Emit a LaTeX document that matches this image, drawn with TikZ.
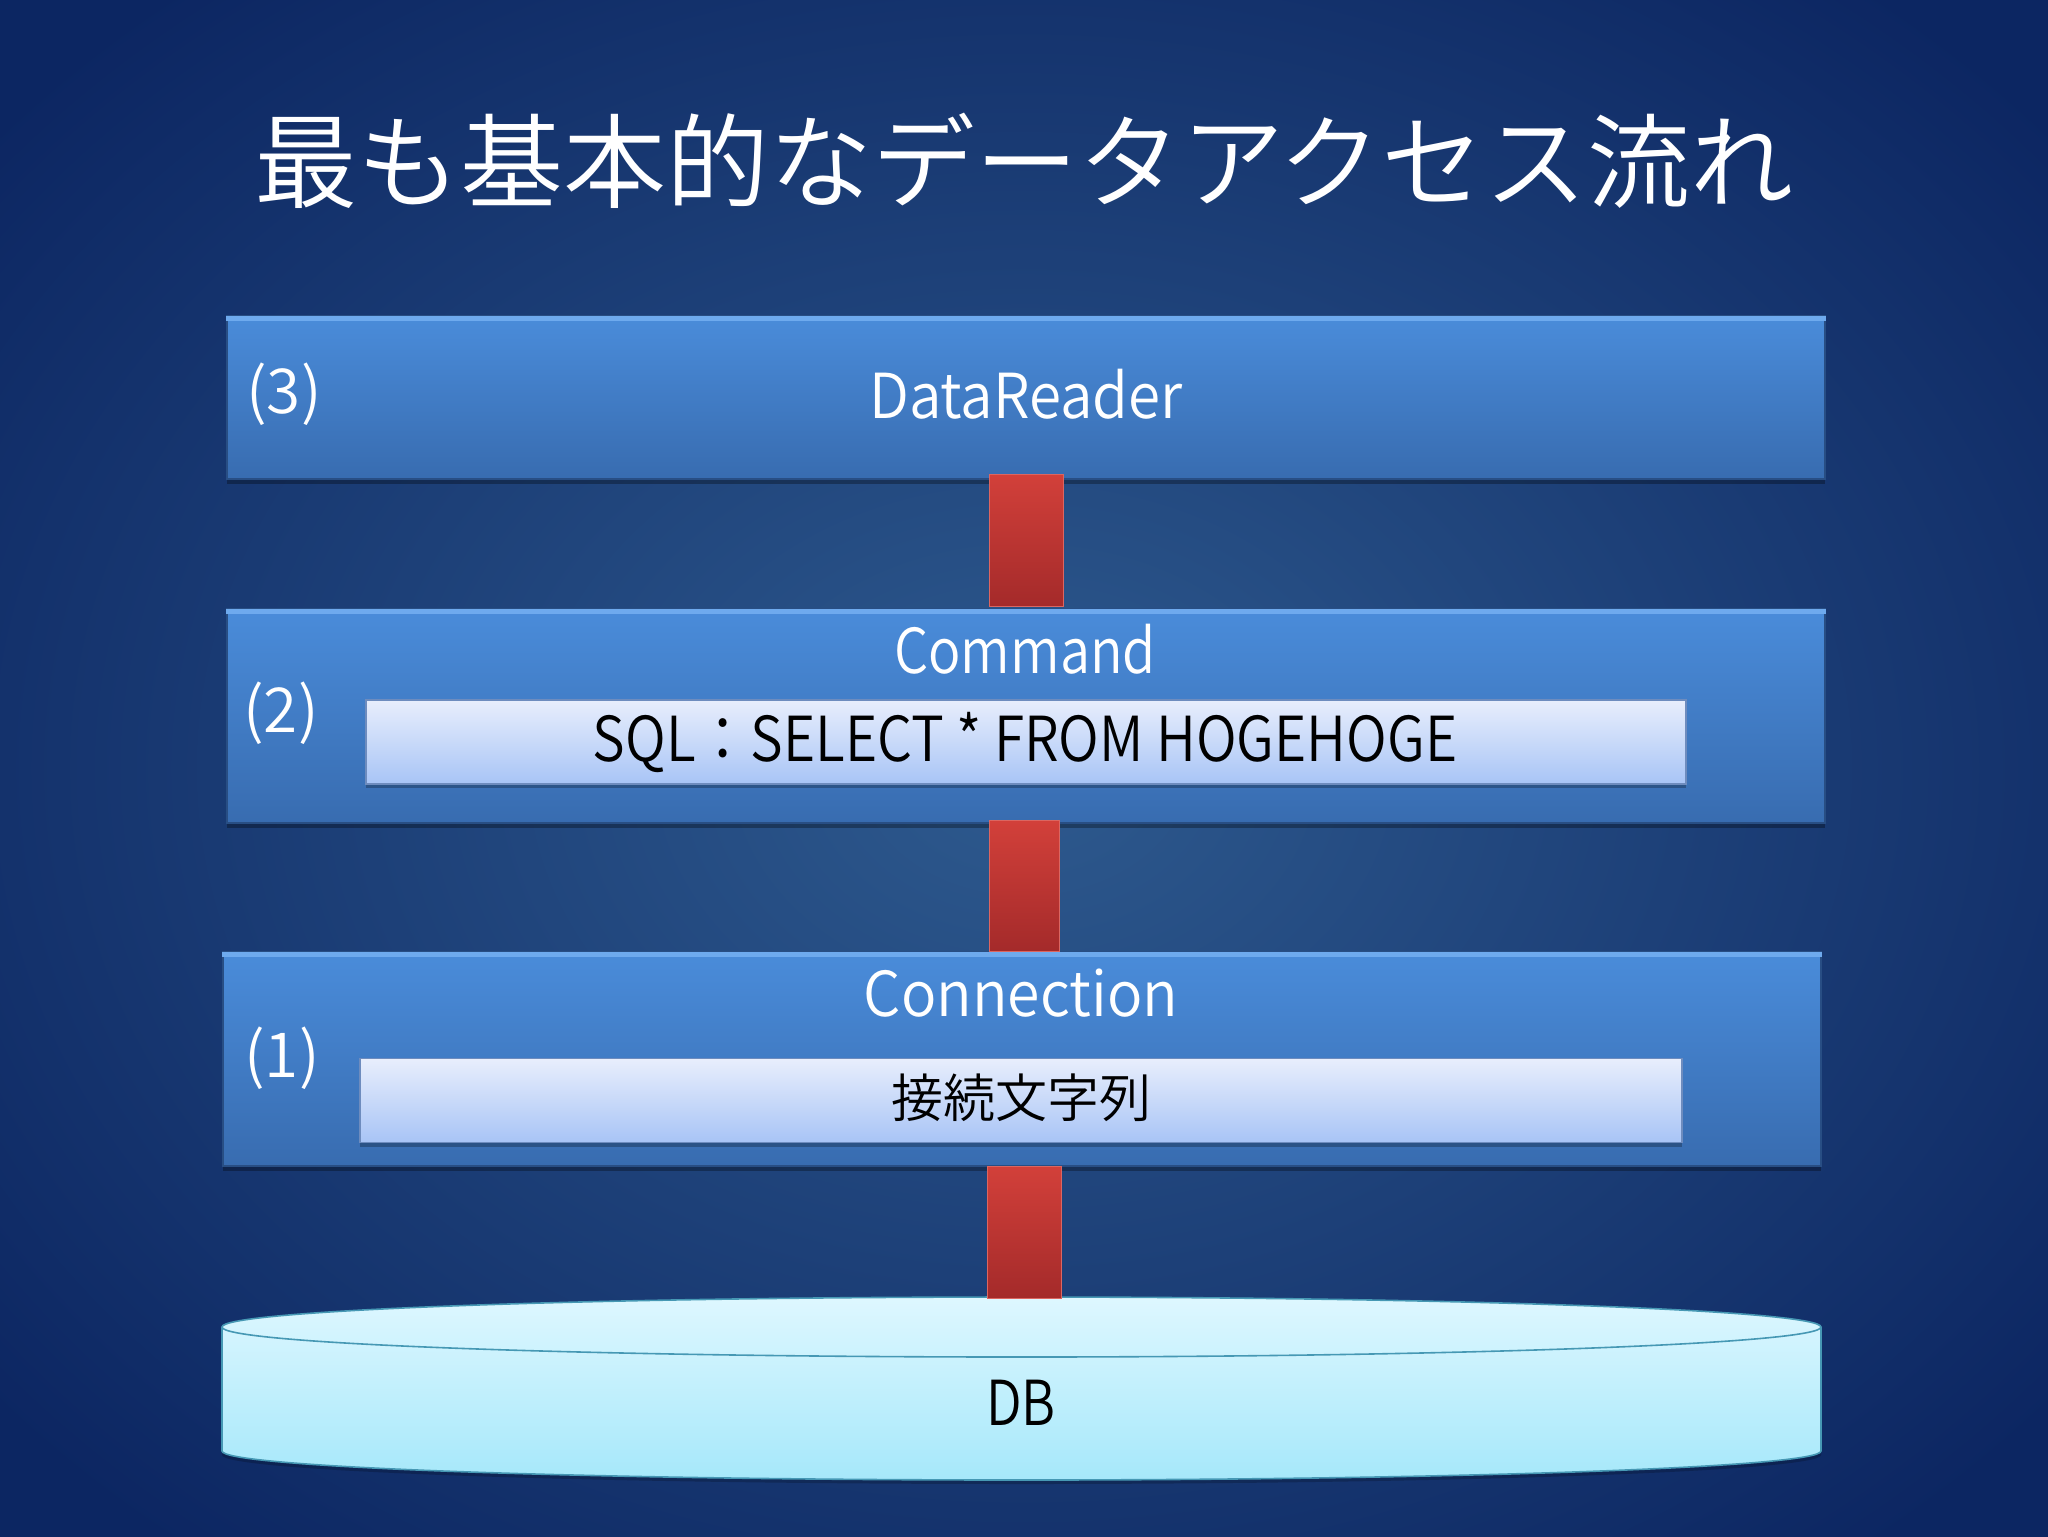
\documentclass[tikz,border=0pt]{standalone}
\usepackage{fontspec}
\setmainfont{Noto Sans CJK JP DemiLight}
\usetikzlibrary{calc,shadows}
\definecolor{bgin}{RGB}{46,90,142}
\definecolor{bgout}{RGB}{12,38,98}
\definecolor{boxtop}{RGB}{74,140,218}
\definecolor{boxbot}{RGB}{56,108,176}
\definecolor{boxedge}{RGB}{40,78,132}
\definecolor{bevel}{RGB}{110,170,238}
\definecolor{intop}{RGB}{232,238,252}
\definecolor{inbot}{RGB}{168,196,246}
\definecolor{inedge}{RGB}{110,140,190}
\definecolor{redtop}{RGB}{210,64,58}
\definecolor{redbot}{RGB}{164,42,42}
\definecolor{dbtopc}{RGB}{222,247,255}
\definecolor{dbbotc}{RGB}{166,232,250}
\definecolor{dbedge}{RGB}{70,152,180}
\begin{document}
\begin{tikzpicture}[x=0.5pt,y=-0.5pt,
  bluebox/.style={draw=boxedge, line width=0.8pt, top color=boxtop, bottom color=boxbot,
    minimum width=799pt, inner sep=0pt,
    drop shadow={opacity=0.3, shadow xshift=0pt, shadow yshift=-2.5pt, fill=black}},
  innerbox/.style={draw=inedge, line width=0.6pt, top color=intop, bottom color=inbot,
    inner sep=0pt, minimum height=42pt,
    drop shadow={opacity=0.25, shadow xshift=0pt, shadow yshift=-2pt, fill=black}},
  redbar/.style={draw=redtop!80!white, line width=0.4pt, top color=redtop, bottom color=redbot},
  wlabel/.style={text=white, inner sep=0pt, font=\fontsize{31}{36}\selectfont},
  blabel/.style={text=black, inner sep=0pt, font=\fontsize{31}{36}\selectfont},
  titlestyle/.style={text=white, inner sep=0pt, font=\fontsize{51.5}{60}\selectfont}]
\useasboundingbox (0,0) rectangle (2048,1536);
\shade[inner color=bgin, outer color=bgout] (-300,-250) rectangle (2348,1786);
% title
\node[titlestyle] (title) at (1024,161) {最も基本的なデータアクセス流れ};
% boxes
\node[bluebox, minimum height=81.5pt] (b3) at (1026,397.5) {};
\node[bluebox, minimum height=107pt] (b2) at (1026,716) {};
\node[bluebox, minimum height=107pt] (b1) at (1022,1059) {};
\foreach \b in {b3,b2,b1}{
  \draw[bevel, line width=2.5pt] ([yshift=-1.5pt]\b.north west) -- ([yshift=-1.5pt]\b.north east);
}
\node[innerbox, minimum width=660pt] (sql) at (1026,742) {};
\node[innerbox, minimum width=661pt] (cs) at (1021,1100.5) {};
% DB cylinder
\path[top color=dbtopc, bottom color=dbbotc, draw=dbedge, line width=0.8pt,
  drop shadow={opacity=0.2, shadow xshift=0pt, shadow yshift=-2pt, fill=black}]
  (222,1327) -- (222,1451) arc[start angle=180, end angle=360, x radius=399.75pt, y radius=14.5pt]
  -- (1821,1327) arc[start angle=0, end angle=180, x radius=399.75pt, y radius=15pt] -- cycle;
\draw[dbedge, line width=0.8pt] (222,1327) arc[start angle=180, end angle=360, x radius=399.75pt, y radius=15pt];
\coordinate (dbtop) at (1023.5,1298);
% connectors
\path[redbar] ($(b3.south)+(-18.5pt,2.5pt)$) rectangle ($(b2.north)+(18.5pt,1pt)$);
\path[redbar] ($(b2.south)+(-18.5pt,1.5pt)$) rectangle ($(b1.north)+(18.5pt,0pt)$);
\path[redbar] ($(b1.south)+(-17.5pt,0pt)$) rectangle ($(dbtop)+(19pt,0pt)$);
% labels
\node[wlabel] (l3) at (1026,394) {\scalebox{0.94}[1]{DataReader}};
\node[wlabel] (n3) at (284,394) {(3)};
\node[wlabel] (l2) at (1025,649) {\scalebox{0.87}[1]{Command}};
\node[wlabel] (n2) at (281,713) {(2)};
\node[blabel] (sqlt) at (1025,742) {\scalebox{0.89}[1]{SQL：SELECT * FROM HOGEHOGE}};
\node[wlabel] (l1) at (1021,993) {\scalebox{0.95}[1]{Connection}};
\node[wlabel] (n1) at (282,1058) {(1)};
\node[blabel, font=\fontsize{26}{30}\selectfont] (cst) at (1021,1098) {接続文字列};
\node[blabel] (db) at (1021,1403) {\scalebox{0.84}[1]{DB}};
\end{tikzpicture}
\end{document}
